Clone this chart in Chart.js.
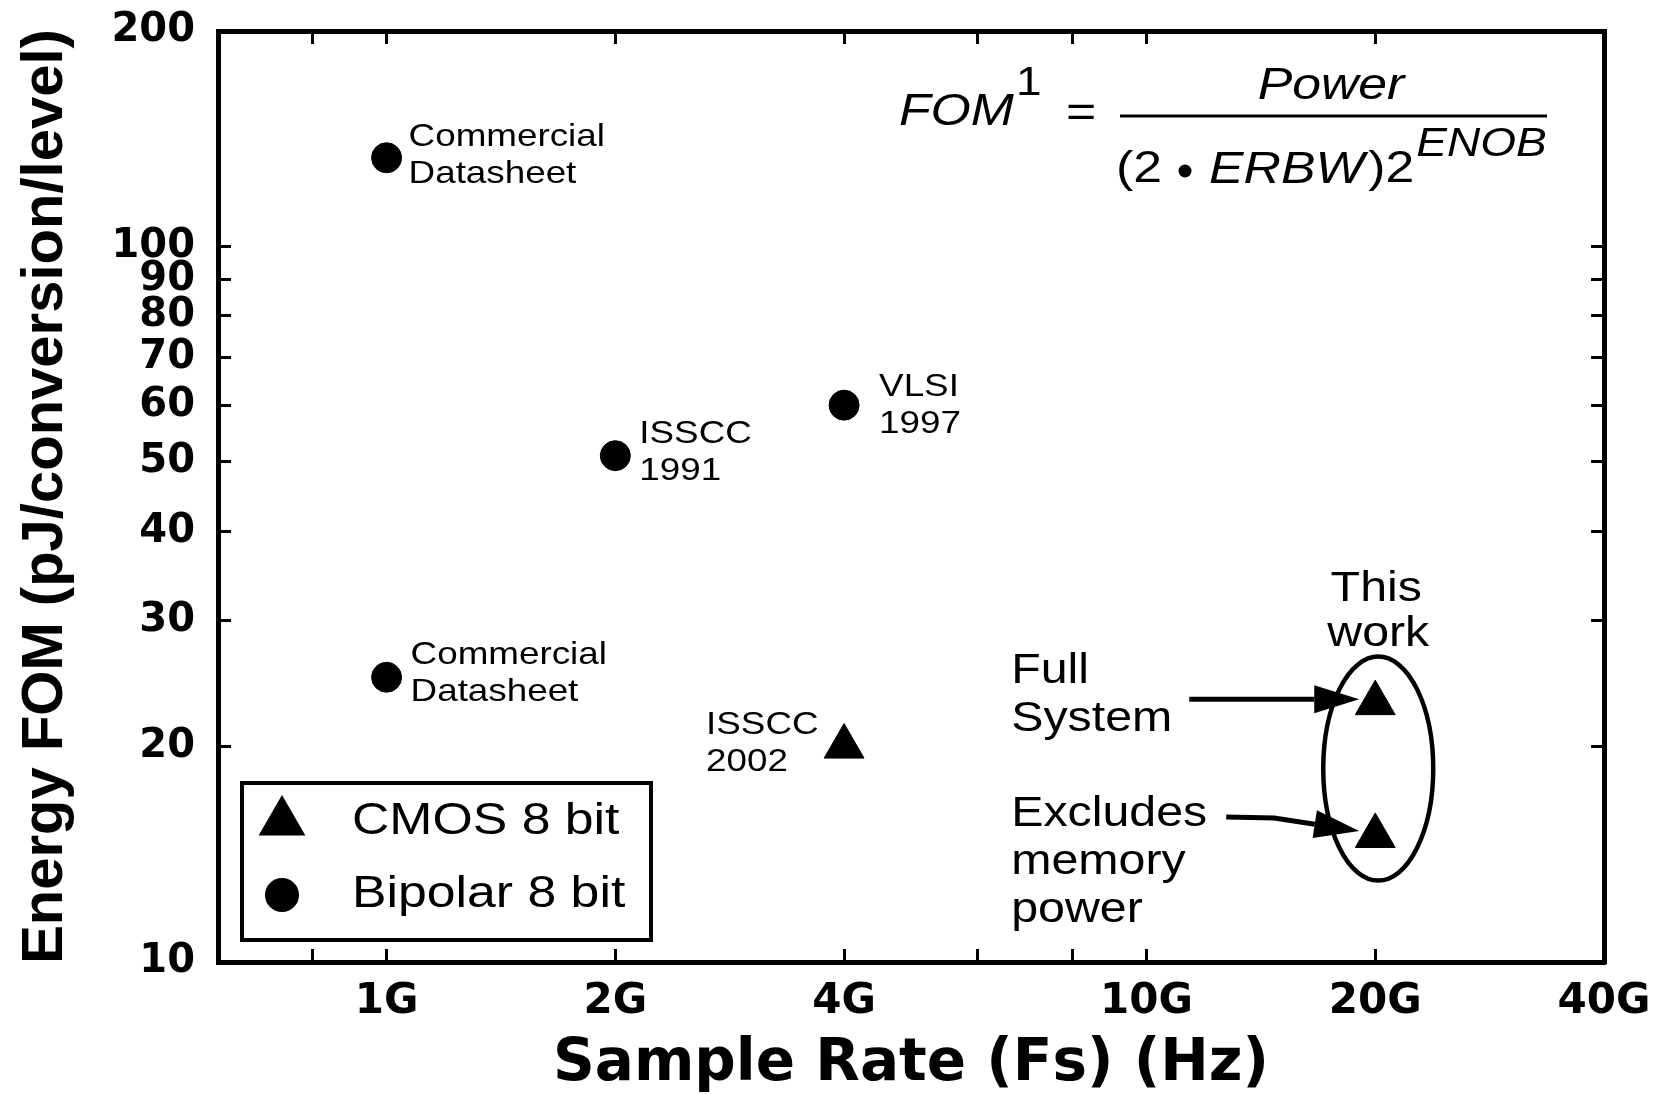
<!DOCTYPE html>
<html>
<head>
<meta charset="utf-8">
<script src="https://cdn.jsdelivr.net/npm/chart.js@4.4.0/dist/chart.umd.min.js"></script>
<style>
  html, body { margin: 0; padding: 0; background: #fff; }
  #wrap { width: 1665px; height: 1094px; }
</style>
</head>
<body>
<div id="wrap"><canvas id="FOMC" width="1665" height="1094"></canvas></div>
<script>
// sample rate in GHz, energy FOM in pJ/conversion/level
const cmosRate = [4, 20, 20];
const cmosFom = [20, 23, 15];
const bipolarRate = [1, 1, 2, 4];
const bipolarFom = [133, 25, 51, 60];

const xTicks = [0.8, 1, 2, 4, 6, 8, 10, 20, 40];
const xLabelAt = [1, 2, 4, 10, 20, 40];
const xLabelText = ["1G", "2G", "4G", "10G", "20G", "40G"];
const yTicks = [10, 20, 30, 40, 50, 60, 70, 80, 90, 100, 200];

// notes next to the points: dataset, point, text lines
const notes = [
  { set: 1, i: 0, lines: ["Commercial", "Datasheet"], dx: 22, dy: -21 },
  { set: 1, i: 1, lines: ["Commercial", "Datasheet"], dx: 24, dy: -22 },
  { set: 1, i: 2, lines: ["ISSCC", "1991"], dx: 24, dy: -22 },
  { set: 1, i: 3, lines: ["VLSI", "1997"], dx: 35, dy: -18 },
  { set: 0, i: 0, lines: ["ISSCC", "2002"], dx: -138, dy: -21 },
];

const STRETCH = 1.15;

function wideText(ctx, txt, x, y, align) {
  ctx.save();
  ctx.translate(x, y);
  ctx.scale(STRETCH, 1);
  ctx.textAlign = align || "left";
  ctx.fillText(txt, 0, 0);
  ctx.restore();
}

function textWidth(ctx, txt) {
  return ctx.measureText(txt).width * STRETCH;
}

function arrow(ctx, pts, headLen, headHalf) {
  let n = pts.length;
  let [tx, ty] = pts[n - 1];
  let [px, py] = pts[n - 2];
  let a = Math.atan2(ty - py, tx - px);
  let bx = tx - Math.cos(a) * headLen, by = ty - Math.sin(a) * headLen;
  ctx.beginPath();
  ctx.moveTo(pts[0][0], pts[0][1]);
  for (let k = 1; k < n - 1; k++) ctx.lineTo(pts[k][0], pts[k][1]);
  ctx.lineTo(bx, by);
  ctx.stroke();
  ctx.beginPath();
  ctx.moveTo(tx, ty);
  ctx.lineTo(bx - Math.sin(a) * headHalf, by + Math.cos(a) * headHalf);
  ctx.lineTo(bx + Math.sin(a) * headHalf, by - Math.cos(a) * headHalf);
  ctx.closePath();
  ctx.fill();
}

const extras = {
  id: "extras",
  afterDatasetsDraw(chart) {
    let ctx = chart.ctx;
    let xs = chart.scales.x, ys = chart.scales.y;
    let ds = chart.data.datasets;
    ctx.save();
    ctx.fillStyle = "#000";
    ctx.strokeStyle = "#000";
    ctx.textBaseline = "middle";

    // point notes
    ctx.font = "32px 'Liberation Sans'";
    notes.forEach((n) => {
      let p = ds[n.set].data[n.i];
      let px = xs.getPixelForValue(p.x), py = ys.getPixelForValue(p.y);
      n.lines.forEach((t, k) => wideText(ctx, t, px + n.dx, py + n.dy + k * 37));
    });

    // "This work" group around the two 20G points
    let top = ds[0].data[1], low = ds[0].data[2];
    let gx = xs.getPixelForValue(top.x);
    let ty = ys.getPixelForValue(top.y), ly = ys.getPixelForValue(low.y);
    ctx.font = "42px 'Liberation Sans'";
    wideText(ctx, "This", gx + 1, ty - 114, "center");
    wideText(ctx, "work", gx + 3, ty - 69, "center");
    wideText(ctx, "Full", gx - 364, ty - 32);
    wideText(ctx, "System", gx - 364, ty + 16);
    wideText(ctx, "Excludes", gx - 364, ly - 22);
    wideText(ctx, "memory", gx - 364, ly + 26);
    wideText(ctx, "power", gx - 364, ly + 74);

    ctx.lineWidth = 4.5;
    ctx.beginPath();
    ctx.ellipse(gx + 3, (ty + ly) / 2 - 1, 55, 112, 0, 0, Math.PI * 2);
    ctx.stroke();

    ctx.lineWidth = 5;
    arrow(ctx, [[gx - 186, ty - 4], [gx - 16, ty - 4]], 45, 14);
    arrow(ctx, [[gx - 149, ly - 19], [gx - 101, ly - 18], [gx - 16, ly - 5]], 45, 14);

    // formula
    ctx.font = "italic 45px 'Liberation Sans'";
    wideText(ctx, "FOM", 899, 112);
    ctx.font = "40px 'Liberation Sans'";
    wideText(ctx, "1", 1016, 84);
    ctx.font = "45px 'Liberation Sans'";
    wideText(ctx, "=", 1066, 114);
    ctx.lineWidth = 3;
    ctx.beginPath();
    ctx.moveTo(1120, 116);
    ctx.lineTo(1547, 116);
    ctx.stroke();
    ctx.font = "italic 45px 'Liberation Sans'";
    wideText(ctx, "Power", 1331, 86, "center");

    let x = 1116, y = 170;
    ctx.font = "45px 'Liberation Sans'";
    wideText(ctx, "(2", x, y);
    x += textWidth(ctx, "(2") + 17;
    ctx.beginPath();
    ctx.arc(x + 6, y + 1, 6.5, 0, Math.PI * 2);
    ctx.fill();
    x += 30;
    ctx.font = "italic 45px 'Liberation Sans'";
    wideText(ctx, "ERBW", x, y);
    x += textWidth(ctx, "ERBW") + 4;
    ctx.font = "45px 'Liberation Sans'";
    wideText(ctx, ")2", x, y);
    x += textWidth(ctx, ")2");
    ctx.font = "italic 40px 'Liberation Sans'";
    wideText(ctx, "ENOB", x + 2, 145);

    // legend box
    ctx.lineWidth = 4;
    ctx.strokeRect(242, 783, 409, 157);
    ctx.font = "45px 'Liberation Sans'";
    [[0, 822], [1, 895]].forEach(([d, ly2]) => {
      let set = ds[d];
      Chart.helpers.drawPoint(ctx, { pointStyle: set.pointStyle, radius: set.pointRadius, rotation: 0, borderWidth: 1 }, 282, ly2);
      wideText(ctx, set.label, 352, ly2);
    });

    ctx.restore();
  },
};

const edge = { display: true, color: "#000", width: 5 };
const inTicks = { drawOnChartArea: false, drawTicks: true, tickLength: -13, tickWidth: 3, tickColor: "#000", color: "#000" };
const setX = (s) => { s.ticks = xTicks.map((v) => ({ value: v })); };
const setY = (s) => { s.ticks = yTicks.map((v) => ({ value: v })); };
const noPad = (s) => {
  s.paddingLeft = 0;
  s.paddingRight = 0;
  s.paddingTop = 0;
  s.paddingBottom = 0;
};

new Chart(document.querySelector("#FOMC"), {
  type: "scatter",
  data: {
    datasets: [
      {
        label: "CMOS 8 bit",
        data: cmosRate.map((r, k) => ({ x: r, y: cmosFom[k] })),
        pointStyle: "triangle",
        pointRadius: 23,
        backgroundColor: "#000",
        borderColor: "#000",
        borderWidth: 1,
      },
      {
        label: "Bipolar 8 bit",
        data: bipolarRate.map((r, k) => ({ x: r, y: bipolarFom[k] })),
        pointStyle: "circle",
        pointRadius: 15,
        backgroundColor: "#000",
        borderColor: "#000",
        borderWidth: 1,
      },
    ],
  },
  options: {
    responsive: false,
    animation: false,
    layout: { padding: { top: 31, right: 61, left: 0, bottom: 0 } },
    plugins: { legend: { display: false }, tooltip: { enabled: false } },
    scales: {
      x: {
        type: "logarithmic",
        position: "bottom",
        min: 0.6,
        max: 40,
        afterBuildTicks: setX,
        afterFit: (s) => { s.height = 132; noPad(s); },
        border: edge,
        grid: inTicks,
        ticks: {
          autoSkip: false,
          maxRotation: 0,
          padding: 28,
          color: "#000",
          font: { family: "'DejaVu Sans'", weight: "bold", size: 42 },
          callback: (v) => {
            let k = xLabelAt.indexOf(v);
            return k < 0 ? "" : xLabelText[k];
          },
        },
        title: {
          display: true,
          text: "Sample Rate (Fs) (Hz)",
          color: "#000",
          padding: 0,
          font: { family: "'DejaVu Sans'", weight: "bold", size: 58, lineHeight: 1 },
        },
      },
      x2: {
        type: "logarithmic",
        position: "top",
        min: 0.6,
        max: 40,
        afterBuildTicks: setX,
        afterFit: (s) => { s.height = 0; noPad(s); },
        border: edge,
        grid: inTicks,
        ticks: { display: false },
      },
      y: {
        type: "logarithmic",
        position: "left",
        min: 10,
        max: 200,
        afterBuildTicks: setY,
        afterFit: (s) => { s.width = 218; noPad(s); },
        border: edge,
        grid: inTicks,
        ticks: {
          autoSkip: false,
          padding: 36,
          color: "#000",
          font: { family: "'DejaVu Sans'", weight: "bold", size: 40 },
          callback: (v) => String(v),
        },
        title: {
          display: true,
          text: "Energy FOM (pJ/conversion/level)",
          color: "#000",
          padding: { top: 11, bottom: 0 },
          font: { family: "'Liberation Sans'", weight: "bold", size: 58 },
        },
      },
      y2: {
        type: "logarithmic",
        position: "right",
        min: 10,
        max: 200,
        afterBuildTicks: setY,
        afterFit: (s) => { s.width = 0; noPad(s); },
        border: edge,
        grid: inTicks,
        ticks: { display: false },
      },
    },
  },
  plugins: [extras],
});
</script>
</body>
</html>
